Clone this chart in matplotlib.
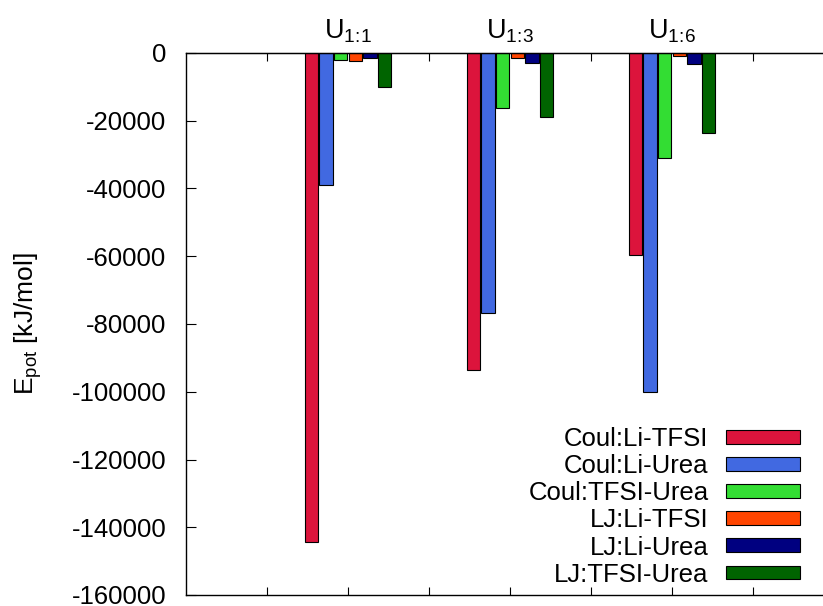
import matplotlib
matplotlib.use("Agg")
import matplotlib.pyplot as plt
import numpy as np

plt.rcParams['font.family'] = ['Liberation Sans', 'DejaVu Sans']
plt.rcParams['mathtext.fontset'] = 'custom'
plt.rcParams['mathtext.rm'] = 'Liberation Sans'
plt.rcParams['mathtext.it'] = 'Liberation Sans'
plt.rcParams['axes.unicode_minus'] = False

# systems and energy contributions (kJ/mol)
systems = [r'U$_{1\!:\!1}$', r'U$_{1\!:\!3}$', r'U$_{1\!:\!6}$']
group_pos = [2, 4, 6]
series = ['Coul:Li-TFSI', 'Coul:Li-Urea', 'Coul:TFSI-Urea',
          'LJ:Li-TFSI', 'LJ:Li-Urea', 'LJ:TFSI-Urea']
coul_li_tfsi = [-144300, -93600, -59500]
coul_li_urea = [-39000, -76800, -100200]
coul_tfsi_urea = [-2000, -16100, -31000]
lj_li_tfsi = [-2300, -1600, -1000]
lj_li_urea = [-1400, -2900, -3300]
lj_tfsi_urea = [-10000, -19000, -23700]
values = [coul_li_tfsi, coul_li_urea, coul_tfsi_urea,
          lj_li_tfsi, lj_li_urea, lj_tfsi_urea]
colors = ['#DC143C', '#4169E1', '#33DD33', '#FF4500', '#000080', '#006400']

fs = 18.5
fig = plt.figure(figsize=(8.23, 6.06), dpi=100)
ax = fig.add_axes([186/823, 11/606, 648/823, 542/606])

step = 0.18
width = 0.165
x = np.array(group_pos, dtype=float)
for i, (name, vals, c) in enumerate(zip(series, values, colors)):
    ax.bar(x + (i - 2.5) * step, vals, width, color=c, edgecolor='black',
           linewidth=0.8, label=name)

ax.set_xlim(0, 8)
ax.set_ylim(-160000, 0)
ax.set_yticks(np.arange(-160000, 1, 20000))
ax.set_xticks(range(1, 8))
ax.set_xticklabels([])
ax.tick_params(axis='both', direction='in', labelsize=fs, width=0.8)
ax.tick_params(axis='y', length=7, pad=14)
ax.tick_params(axis='x', length=6)
for s in ax.spines.values():
    s.set_linewidth(1.0)
ax.spines['right'].set_visible(False)

top = ax.secondary_xaxis('top')
top.set_xticks(group_pos, systems)
top.set_xticks([1, 3, 5, 7], minor=True)
top.tick_params(axis='x', which='major', length=0, labelsize=fs + 1, pad=6)
top.tick_params(axis='x', which='minor', direction='in', length=6, width=0.8)

ax.set_ylabel(r'E$_{\mathrm{pot}}$ [kJ/mol]', fontsize=fs + 0.5, labelpad=20)

ax.legend(loc='lower right', bbox_to_anchor=(0.955, 0.006), frameon=False,
          markerfirst=False, fontsize=fs, handlelength=2.85, handleheight=0.45,
          handletextpad=0.7, labelspacing=0.12, borderpad=0.2, borderaxespad=0)

fig.savefig('out.png', dpi=100)
